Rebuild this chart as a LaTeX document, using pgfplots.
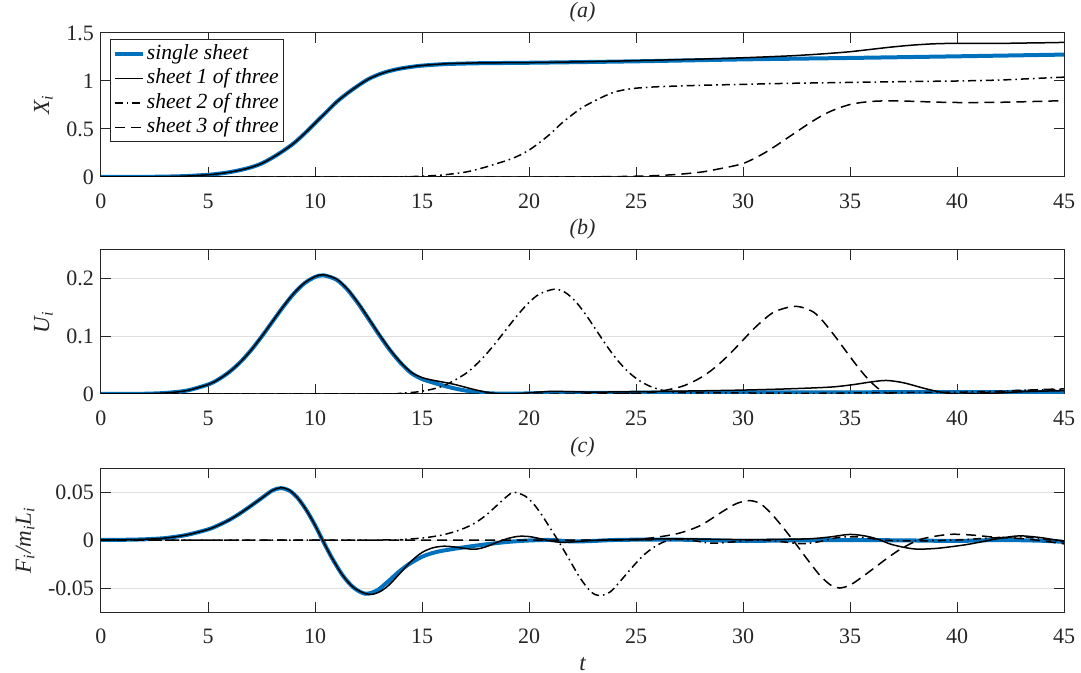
\documentclass[border=0pt]{standalone}
\usepackage{fontspec}
\setmainfont{Liberation Serif}
\usepackage{pgfplots}
\pgfplotsset{compat=1.18}

\definecolor{mblue}{RGB}{0,114,189}
\definecolor{axgray}{RGB}{38,38,38}
\definecolor{gridgray}{RGB}{223,223,223}

\pgfplotsset{
  panel/.style={
    scale only axis, width=481.5pt, height=72pt,
    xmin=0, xmax=45, xtick={0,5,...,45},
    scaled y ticks=false,
    axis line style={axgray, line width=0.5pt},
    tick style={axgray, line width=0.5pt},
    major tick length=5pt,
    tick align=inside, tick pos=both,
    ticklabel style={font=\fontsize{11}{13}\selectfont, text=axgray},
    /pgf/number format/assume math mode=true,
    xticklabel style={yshift=-5pt},
    grid style={gridgray, line width=0.5pt},
    every axis title/.style={font=\itshape\fontsize{11}{13}\selectfont, text=axgray,
                 at={(0.5,1)}, anchor=south, inner sep=0pt, yshift=5pt},
    ylabel style={font=\itshape\fontsize{11.5}{13}\selectfont, text=axgray},
    xlabel style={font=\itshape\fontsize{11.5}{13}\selectfont, text=axgray},
    legend image code/.code={\draw[#1] (0pt,0pt) -- (14pt,0pt);},
  },
  single/.style={mblue, line width=2pt, smooth, tension=0.5},
  one/.style={black, line width=0.75pt, smooth, tension=0.5},
  two/.style={black, line width=0.75pt, dash pattern=on 4pt off 2pt on 0.8pt off 2pt, smooth, tension=0.5},
  three/.style={black, line width=0.75pt, dash pattern=on 5pt off 3pt, smooth, tension=0.5},
}

\begin{document}
\begin{tikzpicture}
\useasboundingbox (-50.5pt,-248pt) rectangle (490pt,88.5pt);

% (a) displacement
\begin{axis}[panel, name=pa, at={(0,0)}, anchor=south west,
  ymin=0, ymax=1.5, ytick={0,0.5,1,1.5}, yticklabels={0,0.5,1,1.5},
  title={(a)}, ylabel={X\textsubscript{i}},
  legend style={at={(axis description cs:0,1)}, anchor=north west,
    xshift=4.5pt, yshift=-3pt, draw=axgray, line width=0.5pt,
    font=\itshape\fontsize{10.8}{13}\selectfont, inner sep=1.2pt,
    nodes={inner sep=1pt, text height=7.8pt, text depth=2.4pt},
    cells={anchor=west}},
]
\addplot[single] coordinates {
 (0,0) (1,0.0005) (2,0.0015) (3,0.004) (4,0.01) (5,0.023) (5.5,0.034) (6,0.05)
 (6.5,0.072) (7,0.1) (7.5,0.14) (8,0.2) (8.5,0.27) (9,0.35) (9.5,0.45) (10,0.56)
 (10.5,0.67) (11,0.78) (11.5,0.87) (12,0.95) (12.5,1.02) (13,1.07) (13.5,1.105)
 (14,1.13) (14.5,1.147) (15,1.16) (16,1.175) (17,1.182) (18,1.186) (20,1.19)
 (25,1.205) (30,1.225) (35,1.24) (40,1.257) (45,1.275)};
\addplot[one] coordinates {
 (0,0) (1,0.0005) (2,0.0015) (3,0.004) (4,0.01) (5,0.023) (5.5,0.034) (6,0.05)
 (6.5,0.072) (7,0.1) (7.5,0.14) (8,0.2) (8.5,0.27) (9,0.35) (9.5,0.45) (10,0.56)
 (10.5,0.67) (11,0.78) (11.5,0.87) (12,0.95) (12.5,1.02) (13,1.07) (13.5,1.105)
 (14,1.13) (14.5,1.148) (15,1.162) (16,1.178) (17,1.186) (18,1.189) (20,1.192)
 (22,1.198) (25,1.212) (28,1.228) (30,1.242) (32,1.26) (33,1.272) (34,1.287)
 (35,1.305) (36,1.33) (37,1.355) (38,1.375) (39,1.388) (40,1.392) (42,1.392)
 (43,1.395) (44,1.398) (45,1.402)};
\addplot[two] coordinates {
 (0,0) (13,0) (14,0.002) (15,0.008) (16,0.022) (17,0.05) (17.5,0.075) (18,0.105)
 (18.5,0.14) (19,0.175) (19.5,0.22) (20,0.28) (20.5,0.36) (21,0.45) (21.5,0.555)
 (22,0.645) (22.5,0.725) (23,0.785) (23.5,0.84) (24,0.885) (24.5,0.91) (25,0.925)
 (25.5,0.933) (26,0.94) (27,0.948) (28,0.955) (30,0.965) (32,0.975) (35,0.985)
 (38,0.995) (40,1.0) (42,1.01) (43,1.02) (44,1.03) (45,1.04)};
\addplot[three] coordinates {
 (0,0) (22,0) (23,0.002) (24,0.004) (25,0.008) (26,0.015) (27,0.028) (28,0.05)
 (28.5,0.068) (29,0.09) (29.5,0.112) (30,0.14) (30.5,0.19) (31,0.25) (31.5,0.32)
 (32,0.395) (32.5,0.47) (33,0.545) (33.5,0.615) (34,0.675) (34.5,0.72) (35,0.755)
 (35.5,0.775) (36,0.787) (36.5,0.792) (37,0.793) (38,0.788) (39,0.78) (40,0.776)
 (41,0.776) (42,0.778) (43,0.783) (44,0.789) (45,0.795)};
\legend{single sheet, sheet 1 of three, sheet 2 of three, sheet 3 of three}
\end{axis}

% (b) velocity
\begin{axis}[panel, name=pb, at={(0,-108.5pt)}, anchor=south west,
  ymin=0, ymax=0.25, ytick={0,0.1,0.2}, yticklabels={0,0.1,0.2},
  ymajorgrids, title={(b)}, ylabel={U\textsubscript{i}},
]
\addplot[single] coordinates {
 (0,0) (1,0.0001) (2,0.0004) (3,0.0018) (4,0.0059) (5,0.0164) (5.5,0.0256)
 (6,0.0384) (6.5,0.055) (7,0.0755) (7.5,0.0993) (8,0.125) (8.5,0.1506) (9,0.1738)
 (9.5,0.192) (10,0.2031) (10.4,0.206) (11,0.1985) (11.5,0.1818) (12,0.158)
 (12.5,0.1306) (13,0.1025) (13.5,0.0763) (14,0.054) (14.5,0.0363) (15,0.026)
 (15.5,0.02) (16,0.0145) (16.5,0.0098) (17,0.0062) (17.5,0.0035) (18,0.0016)
 (18.5,0.0007) (19,0.0005) (20,0.001) (21,0.0018) (25,0.0022) (30,0.0028)
 (35,0.003) (40,0.0032) (45,0.0038)};
\addplot[one] coordinates {
 (0,0) (1,0.0001) (2,0.0004) (3,0.0018) (4,0.0059) (5,0.0164) (5.5,0.0256)
 (6,0.0384) (6.5,0.055) (7,0.0755) (7.5,0.0995) (8,0.1253) (8.5,0.151) (9,0.1743)
 (9.5,0.1926) (10,0.2038) (10.4,0.207) (11,0.1995) (11.5,0.1828) (12,0.159)
 (12.5,0.1316) (13,0.1035) (13.5,0.0773) (14,0.055) (14.5,0.0375) (15,0.0285)
 (15.5,0.024) (16,0.0205) (16.5,0.0168) (17,0.012) (17.5,0.0072) (18,0.0032)
 (18.5,0.0008) (19,0.0) (19.5,0.0006) (20,0.002) (21,0.0045) (22,0.004)
 (23,0.0033) (25,0.004) (28,0.0055) (30,0.0068) (32,0.0088) (34,0.0118)
 (35,0.0155) (36,0.021) (36.7,0.0235) (37.5,0.0195) (38.5,0.0095) (39.3,0.0028)
 (40,0.0) (41,0.0003) (42,0.0018) (43,0.0038) (44,0.005) (45,0.0058)};
\addplot[two] coordinates {
 (0,0) (13,0.0003) (14,0.0013) (15,0.0048) (16,0.0141) (17,0.0344) (17.5,0.0499)
 (18,0.0691) (18.5,0.0914) (19,0.1152) (19.5,0.1385) (20,0.1589) (20.5,0.1738)
 (21.2,0.182) (21.7,0.1761) (22.2,0.1596) (22.7,0.1353) (23.2,0.1075) (23.7,0.08)
 (24.2,0.0557) (24.7,0.0363) (25.2,0.0222) (25.7,0.0127) (26.2,0.0068)
 (26.7,0.0034) (27.5,0.002) (30,0.0018) (33,0.0012) (35,0.0018) (38,0.0028)
 (40,0.0032) (42,0.0048) (43,0.0065) (45,0.0078)};
\addplot[three] coordinates {
 (0,0) (23,0) (24,0.0003) (25,0.0011) (26,0.004) (27,0.0116) (27.5,0.0184)
 (28,0.0279) (28.5,0.0404) (29,0.056) (29.5,0.074) (30,0.0936) (30.5,0.113)
 (31,0.13) (31.5,0.1433) (32.3,0.152) (32.8,0.15) (33.3,0.142) (33.7,0.128)
 (34.2,0.105) (34.7,0.08) (35.2,0.055) (35.65,0.034) (36,0.02) (36.3,0.01)
 (36.6,0.003) (37,0.0) (38,-0.0015) (39,-0.0015) (40,0.0) (41,0.0018)
 (42,0.0038) (43,0.006) (44,0.0078) (45,0.0088)};
\end{axis}

% (c) force
\begin{axis}[panel, name=pc, at={(0,-217.5pt)}, anchor=south west,
  ymin=-0.075, ymax=0.075, ytick={-0.05,0,0.05}, yticklabels={-0.05,0,0.05},
  ymajorgrids, title={(c)},
  ylabel={F\textsubscript{i}/m\textsubscript{i}L\textsubscript{i}}, xlabel={t},
]
\addplot[single] coordinates {
 (0,0) (1,0.0002) (2,0.0007) (3,0.002) (4,0.0053) (5,0.011) (5.5,0.0155) (6,0.021)
 (6.5,0.0278) (7,0.0355) (7.5,0.0435) (8,0.0515) (8.4,0.054) (8.8,0.0515)
 (9.2,0.0435) (9.6,0.031) (10,0.0155) (10.35,0.0) (10.8,-0.019) (11.3,-0.037)
 (11.8,-0.0495) (12.35,-0.056) (12.9,-0.0525) (13.4,-0.0435) (13.9,-0.0335)
 (14.4,-0.025) (15,-0.0175) (15.5,-0.0135) (16,-0.011) (17,-0.0075) (18,-0.0045)
 (19,-0.002) (20,-0.0005) (21,0.0) (22,-0.0015) (23,-0.001) (24,0.0) (26,0.0005)
 (28,0.0) (30,-0.001) (32,-0.0005) (35,0.0) (38,-0.0005) (40,-0.001) (42,0.0)
 (44,-0.0008) (45,-0.002)};
\addplot[one] coordinates {
 (0,0) (1,0.0002) (2,0.0007) (3,0.002) (4,0.0053) (5,0.011) (5.5,0.0155) (6,0.021)
 (6.5,0.0278) (7,0.0355) (7.5,0.0435) (8,0.0515) (8.4,0.0545) (8.8,0.052)
 (9.2,0.0435) (9.6,0.031) (10,0.0155) (10.35,0.0) (10.8,-0.019) (11.3,-0.037)
 (11.8,-0.0495) (12.35,-0.0558) (12.7,-0.0565) (13.1,-0.053) (13.5,-0.046)
 (14,-0.034) (14.5,-0.022) (15,-0.013) (15.5,-0.0082) (16,-0.0065) (16.5,-0.0072)
 (17,-0.0088) (17.5,-0.0096) (18,-0.007) (18.5,-0.0025) (19,0.0015) (19.5,0.0038)
 (20,0.0036) (20.5,0.0015) (21,-0.001) (21.5,-0.0024) (22,-0.002) (23,-0.0005)
 (25,0.0007) (27,0.0013) (29,0.0006) (31,0.0005) (33,0.0012) (34,0.003)
 (35,0.0058) (35.8,0.0038) (36.4,0.0) (37,-0.005) (38,-0.0093) (39,-0.0088)
 (40,-0.0062) (40.6,-0.0042) (41.3,-0.0012) (42,0.0018) (42.9,0.0043)
 (43.8,0.0028) (44.5,0.0005) (45,-0.001)};
\addplot[two] coordinates {
 (0,0) (13,0) (14,0.0005) (15,0.002) (15.5,0.0035) (16,0.0055) (16.5,0.0085)
 (17,0.0125) (17.5,0.018) (18,0.026) (18.5,0.036) (19,0.046) (19.3,0.0497)
 (19.8,0.046) (20.2,0.038) (20.6,0.026) (21,0.012) (21.4,-0.002) (21.9,-0.021)
 (22.4,-0.04) (22.9,-0.054) (23.3,-0.058) (23.8,-0.054) (24.3,-0.042)
 (24.8,-0.029) (25.3,-0.017) (25.8,-0.008) (26.3,-0.002) (26.8,0.0005) (27.5,0.0)
 (28.5,-0.0033) (29.5,-0.002) (30.5,0.0) (31.5,-0.001) (32.7,-0.0038)
 (33.5,-0.002) (34.5,0.0028) (35.5,0.003) (36.5,0.0) (38,-0.001) (40,0.0)
 (41.5,0.002) (43,0.0033) (44,0.001) (45,-0.002)};
\addplot[three] coordinates {
 (0,0) (24,0) (25,0.0005) (26,0.003) (27,0.007) (28,0.015) (29,0.029) (29.7,0.038)
 (30.3,0.041) (30.8,0.038) (31.3,0.028) (31.8,0.015) (32.4,-0.002) (33,-0.02)
 (33.6,-0.037) (34.1,-0.047) (34.5,-0.05) (35,-0.047) (35.6,-0.038) (36.2,-0.028)
 (36.8,-0.018) (37.4,-0.009) (38.2,0.0) (39,0.004) (39.8,0.006) (40.8,0.005)
 (41.7,0.003) (43,0.0015) (44,-0.001) (45,-0.004)};
\end{axis}
\end{tikzpicture}
\end{document}
